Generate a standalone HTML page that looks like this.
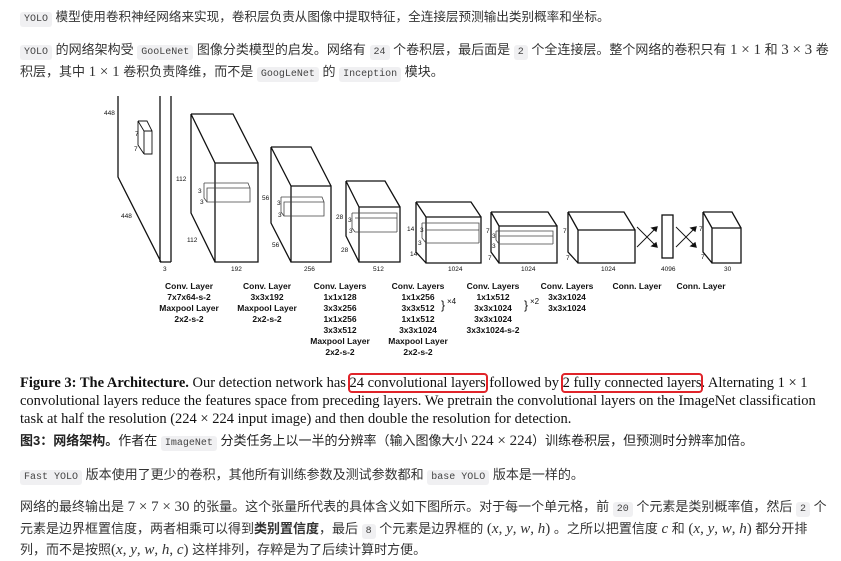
<!DOCTYPE html>
<html><head><meta charset="utf-8"><style>
body{margin:0;width:841px;height:561px;background:#fff;position:relative;overflow:hidden;font-family:"Liberation Sans","Noto Sans CJK SC",sans-serif;color:#333;}
.l{position:absolute;left:20px;font-size:13px;white-space:nowrap;line-height:18px;}
code{font-family:"Liberation Mono",monospace;font-size:10px;background:#f0f0f2;border-radius:3px;padding:2px 4px;color:#444;}
.cap{position:absolute;left:20px;font-family:"Liberation Serif",serif;font-size:14.5px;color:#111;white-space:nowrap;line-height:18px;}
.n{font-family:"Liberation Serif",serif;font-size:15px;}
.rb{outline:2px solid #e0242a;outline-offset:0px;border-radius:2px;}
svg text{font-family:"Liberation Sans",sans-serif;}
</style></head><body>
<div class="l" style="top:8px;font-size:12.6px"><code>YOLO</code> 模型使用卷积神经网络来实现，卷积层负责从图像中提取特征，全连接层预测输出类别概率和坐标。</div>
<div class="l" style="top:41px"><code>YOLO</code> 的网络架构受 <code>GooLeNet</code> 图像分类模型的启发。网络有 <code>24</code> 个卷积层，最后面是 <code>2</code> 个全连接层。整个网络的卷积只有 <span class="n">1 × 1</span> 和 <span class="n">3 × 3</span> 卷</div>
<div class="l" style="top:63px">积层，其中 <span class="n">1 × 1</span> 卷积负责降维，而不是 <code>GoogLeNet</code> 的 <code>Inception</code> 模块。</div>

<svg style="position:absolute;left:0;top:0" width="841" height="370" stroke="#111" fill="none" stroke-width="1.3">
<path d="M118 96V177L161 262M160 96V262M171 96V262M160 262H171"/>
<path d="M138 121H147L152 131M138 121L144 131V154M144 131H152V154H144M138 121V145L144 154" stroke-width="0.9"/>
<path d="M191 114H233L258 163M191 114L215 163M191 114V213L215 262M215 163H258V262H215Z"/>
<path d="M204 183H248L250 188M204 183V198L207 202M207 188H250V202H207Z" stroke-width="0.8" stroke="#444"/>
<path d="M271 147H311L331 186M271 147L291 186M271 147V223L291 262M291 186H331V262H291Z"/>
<path d="M281 197H322L324 202M281 197V212L284 216M284 202H324V216H284Z" stroke-width="0.8" stroke="#444"/>
<path d="M346 181H385L400 207M346 181L359 207M346 181V236L359 262M359 207H400V262H359Z"/>
<path d="M352 213H397V232M352 213V228L355 232M355 218H397M355 232H397" stroke-width="0.8" stroke="#444"/>
<path d="M416 202H471L481 217M416 202L426 217M416 202V252L426 263M426 217H481V263H426Z"/>
<path d="M422 223H479V243M422 223V238L426 243M426 230H479M426 243H479" stroke-width="0.8" stroke="#444"/>
<path d="M491 212H548L557 226M491 212L499 226M491 212V252L499 263M499 226H557V263H499Z"/>
<path d="M496 231H553V244M496 231V240L499 244M499 236H553M499 244H553" stroke-width="0.8" stroke="#444"/>
<path d="M568 212H624L635 230M568 212L578 230M568 212V252L578 263M578 230H635V263H578Z"/>
<path d="M637 247L657 227M637 227L657 247M676 247L696 227M676 227L696 247" stroke-width="0.9"/>
<path d="M657 227l-5 1 4 3zM657 247l-5-1 4-3zM696 227l-5 1 4 3zM696 247l-5-1 4-3z" fill="#111"/>
<rect x="662" y="215" width="11" height="43"/>
<path d="M703 212H732L741 228M703 212L712 228M703 212V252L712 263M712 228H741V263H712Z"/>
<g stroke="none" fill="#111" font-size="6.5">
<text x="104" y="115">448</text><text x="135" y="136">7</text><text x="134" y="151">7</text>
<text x="121" y="218">448</text><text x="163" y="271">3</text>
<text x="176" y="181">112</text><text x="198" y="193">3</text><text x="200" y="204">3</text><text x="187" y="242">112</text><text x="231" y="271">192</text>
<text x="262" y="200">56</text><text x="272" y="247">56</text><text x="277" y="205">3</text><text x="278" y="217">3</text><text x="304" y="271">256</text>
<text x="336" y="219">28</text><text x="341" y="252">28</text><text x="348" y="222">3</text><text x="349" y="233">3</text><text x="373" y="271">512</text>
<text x="407" y="231">14</text><text x="420" y="232">3</text><text x="418" y="245">3</text><text x="410" y="256">14</text><text x="448" y="271">1024</text>
<text x="486" y="233">7</text><text x="492" y="238">3</text><text x="492" y="248">3</text><text x="488" y="260">7</text><text x="521" y="271">1024</text>
<text x="563" y="233">7</text><text x="566" y="260">7</text><text x="601" y="271">1024</text>
<text x="661" y="271">4096</text>
<text x="699" y="231">7</text><text x="701" y="259">7</text><text x="724" y="271">30</text>
</g>
<g stroke="none" fill="#111" font-size="8.5" font-weight="bold" text-anchor="middle">
<text x="189" y="289">Conv. Layer</text><text x="189" y="300">7x7x64-s-2</text><text x="189" y="311">Maxpool Layer</text><text x="189" y="322">2x2-s-2</text>
<text x="267" y="289">Conv. Layer</text><text x="267" y="300">3x3x192</text><text x="267" y="311">Maxpool Layer</text><text x="267" y="322">2x2-s-2</text>
<text x="340" y="289">Conv. Layers</text><text x="340" y="300">1x1x128</text><text x="340" y="311">3x3x256</text><text x="340" y="322">1x1x256</text><text x="340" y="333">3x3x512</text><text x="340" y="344">Maxpool Layer</text><text x="340" y="355">2x2-s-2</text>
<text x="418" y="289">Conv. Layers</text><text x="418" y="300">1x1x256</text><text x="418" y="311">3x3x512</text><text x="418" y="322">1x1x512</text><text x="418" y="333">3x3x1024</text><text x="418" y="344">Maxpool Layer</text><text x="418" y="355">2x2-s-2</text>
<text x="493" y="289">Conv. Layers</text><text x="493" y="300">1x1x512</text><text x="493" y="311">3x3x1024</text><text x="493" y="322">3x3x1024</text><text x="493" y="333">3x3x1024-s-2</text>
<text x="567" y="289">Conv. Layers</text><text x="567" y="300">3x3x1024</text><text x="567" y="311">3x3x1024</text>
<text x="637" y="289">Conn. Layer</text><text x="701" y="289">Conn. Layer</text>
</g>
<g stroke="none" fill="#111" font-size="12"><text x="441" y="309">}</text><text x="524" y="309">}</text></g>
<g stroke="none" fill="#111" font-size="8"><text x="447" y="304">×4</text><text x="530" y="304">×2</text></g>
</svg>

<div class="cap" style="top:374px"><b>Figure 3: The Architecture.</b> Our detection network has <span class="rb">24 convolutional layers</span> followed by <span class="rb">2 fully connected layers</span>. Alternating 1 × 1</div>
<div class="cap" style="top:392px">convolutional layers reduce the features space from preceding layers. We pretrain the convolutional layers on the ImageNet classification</div>
<div class="cap" style="top:410px">task at half the resolution (224 × 224 input image) and then double the resolution for detection.</div>
<div class="l" style="top:432px;color:#222"><b>图3：网络架构。</b>作者在 <code>ImageNet</code> 分类任务上以一半的分辨率（输入图像大小 <span class="n">224 × 224</span>）训练卷积层，但预测时分辨率加倍。</div>
<div class="l" style="top:466px"><code>Fast YOLO</code> 版本使用了更少的卷积，其他所有训练参数及测试参数都和 <code>base YOLO</code> 版本是一样的。</div>
<div class="l" style="top:498px">网络的最终输出是 <span class="n">7 × 7 × 30</span> 的张量。这个张量所代表的具体含义如下图所示。对于每一个单元格，前 <code>20</code> 个元素是类别概率值，然后 <code>2</code> 个</div>
<div class="l" style="top:520px">元素是边界框置信度，两者相乘可以得到<b>类别置信度</b>，最后 <code>8</code> 个元素是边界框的 <span class="n">(<i>x</i>, <i>y</i>, <i>w</i>, <i>h</i>)</span> 。之所以把置信度 <span class="n"><i>c</i></span> 和 <span class="n">(<i>x</i>, <i>y</i>, <i>w</i>, <i>h</i>)</span> 都分开排</div>
<div class="l" style="top:541px">列，而不是按照<span class="n">(<i>x</i>, <i>y</i>, <i>w</i>, <i>h</i>, <i>c</i>)</span> 这样排列，存粹是为了后续计算时方便。</div>
</body></html>
